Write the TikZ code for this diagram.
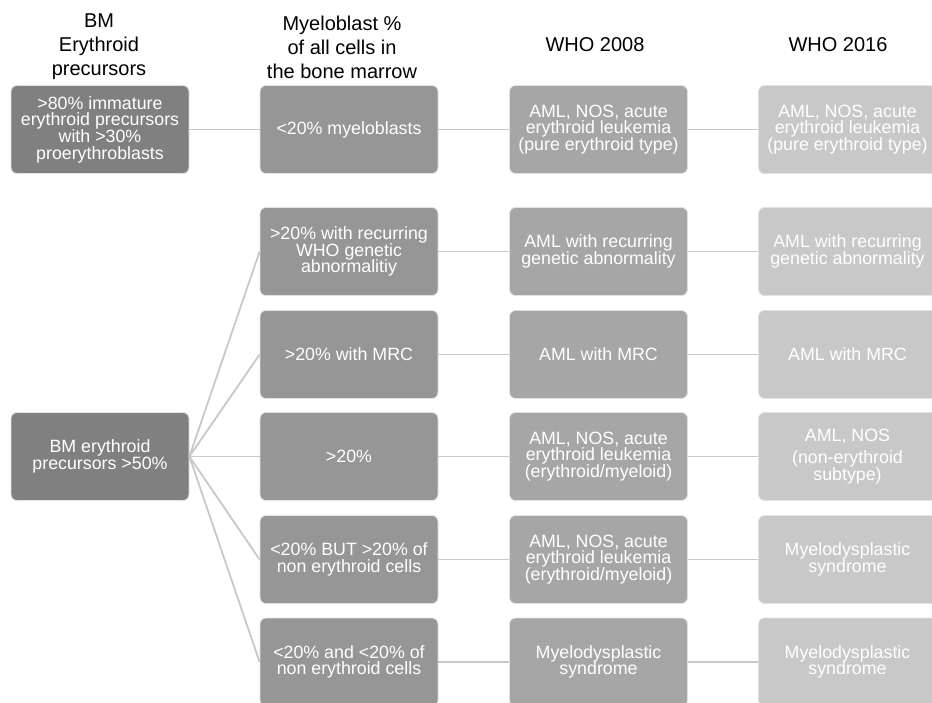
\documentclass[tikz,border=0pt]{standalone}
\usepackage{fontspec}
\setmainfont{Liberation Sans}
\definecolor{fillA}{HTML}{808080}
\definecolor{fillB}{HTML}{969696}
\definecolor{fillC}{HTML}{A6A6A6}
\definecolor{fillD}{HTML}{C8C8C8}
\definecolor{linkgray}{HTML}{C8C8C8}
\definecolor{edgegray}{HTML}{E2E2E2}
\tikzset{
  box/.style={draw=edgegray, line width=0.8pt, rounded corners=6pt,
    minimum width=178pt, minimum height=88pt, inner sep=0pt,
    text=white, align=center, font=\fontsize{17.8}{16.7}\selectfont},
  colA/.style={box, fill=fillA},
  colB/.style={box, fill=fillB},
  colC/.style={box, fill=fillC},
  colD/.style={box, fill=fillD},
  head/.style={align=center, font=\fontsize{20}{24}\selectfont, text=black, inner sep=0pt},
  link/.style={draw=linkgray, line width=1.8pt}
}
\begin{document}
\begin{tikzpicture}[x=1pt,y=-1pt]
\useasboundingbox (0,0) rectangle (932,702);
\clip (0,0) rectangle (932,702);
% headers
\node[head] (h1) at (99,47) {BM\\Erythroid\\precursors};
\node[head] (h2) at (342,47) {Myeloblast \%\\of all cells in\\the bone marrow};
\node[head] (h3) at (595,45) {WHO 2008};
\node[head] (h4) at (838,45) {WHO 2016};
% column A
\node[colA] (a1) at (100,129.5) {>80\% immature\\erythroid precursors\\with >30\%\\proerythroblasts};
\node[colA] (a2) at (100,456.5) {BM erythroid\\precursors >50\%};
% column B
\node[colB] (b1) at (349,129.5) {<20\% myeloblasts};
\node[colB] (b2) at (349,251.5) {>20\% with recurring\\WHO genetic\\abnormalitiy};
\node[colB] (b3) at (349,354.5) {>20\% with MRC};
\node[colB] (b4) at (349,456.5) {>20\%};
\node[colB] (b5) at (349,559.5) {<20\% BUT >20\% of\\non erythroid cells};
\node[colB] (b6) at (349,662) {<20\% and <20\% of\\non erythroid cells};
% column C
\node[colC] (c1) at (598.5,129.5) {AML, NOS, acute\\erythroid leukemia\\(pure erythroid type)};
\node[colC] (c2) at (598.5,251.5) {AML with recurring\\genetic abnormality};
\node[colC] (c3) at (598.5,354.5) {AML with MRC};
\node[colC] (c4) at (598.5,456.5) {AML, NOS, acute\\erythroid leukemia\\(erythroid/myeloid)};
\node[colC] (c5) at (598.5,559.5) {AML, NOS, acute\\erythroid leukemia\\(erythroid/myeloid)};
\node[colC] (c6) at (598.5,662) {Myelodysplastic\\syndrome};
% column D
\node[colD] (d1) at (847.5,129.5) {AML, NOS, acute\\erythroid leukemia\\(pure erythroid type)};
\node[colD] (d2) at (847.5,251.5) {AML with recurring\\genetic abnormality};
\node[colD] (d3) at (847.5,354.5) {AML with MRC};
\node[colD] (d4) at (847.5,456.5) {AML, NOS\\[6pt](non-erythroid\\subtype)};
\node[colD] (d5) at (847.5,559.5) {Myelodysplastic\\syndrome};
\node[colD] (d6) at (847.5,662) {Myelodysplastic\\syndrome};
% connectors
\draw[link] (a1.east) -- (b1.west);
\foreach \r in {2,...,6} {\draw[link] (a2.east) -- (b\r.west);}
\foreach \r in {1,...,6} {
  \draw[link] (b\r.east) -- (c\r.west);
  \draw[link] (c\r.east) -- (d\r.west);
}
\end{tikzpicture}
\end{document}
